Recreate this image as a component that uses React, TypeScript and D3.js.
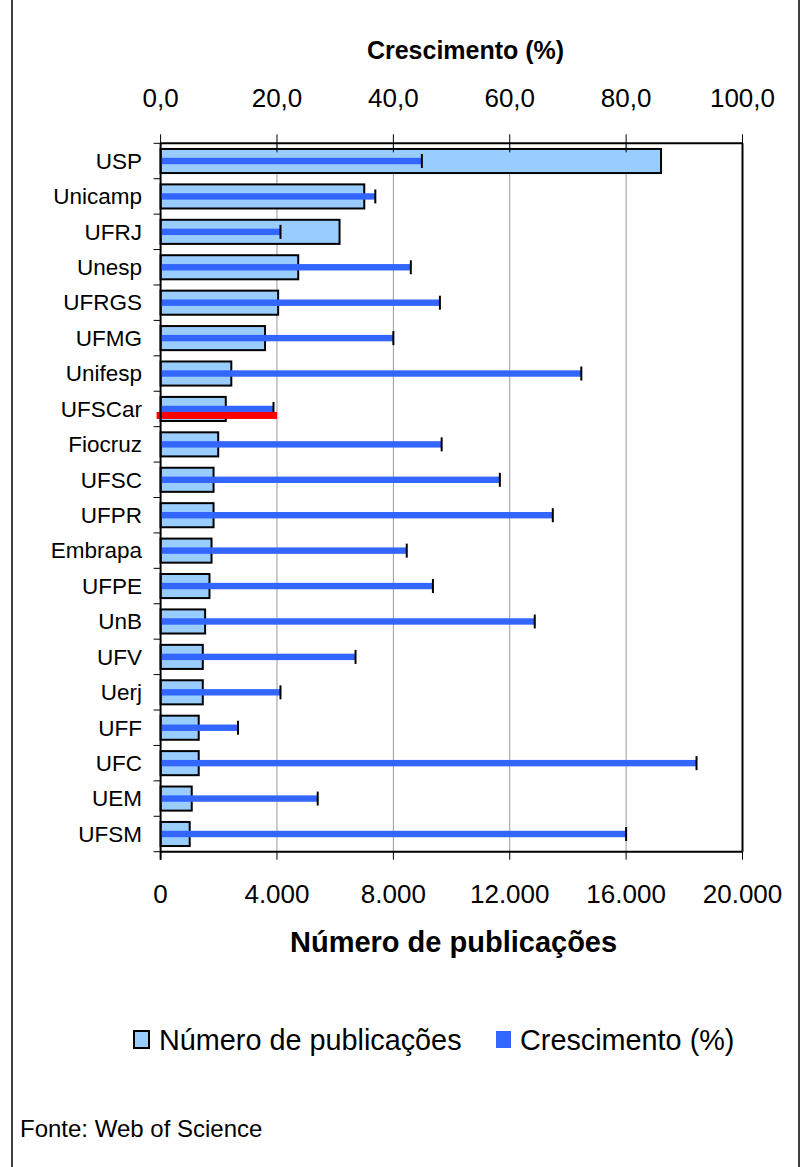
import * as d3 from 'd3'

// dados (Web of Science)
const universidades = [
  'USP', 'Unicamp', 'UFRJ', 'Unesp', 'UFRGS', 'UFMG', 'Unifesp', 'UFSCar', 'Fiocruz', 'UFSC',
  'UFPR', 'Embrapa', 'UFPE', 'UnB', 'UFV', 'Uerj', 'UFF', 'UFC', 'UEM', 'UFSM'
]
const publicacoes = [
  17200, 7000, 6150, 4730, 4040, 3590, 2430, 2240, 1980, 1820,
  1820, 1750, 1680, 1530, 1450, 1450, 1310, 1310, 1070, 1000
]
const crescimento = [
  44.9, 36.9, 20.6, 43.0, 48.0, 40.0, 72.3, 19.4, 48.3, 58.3,
  67.4, 42.3, 46.8, 64.3, 33.5, 20.6, 13.3, 92.1, 27.0, 80.0
]
const pubTicks = [0, 4000, 8000, 12000, 16000, 20000]
const crescTicks = [0, 20, 40, 60, 80, 100]
const destaque = 'UFSCar'
const destaqueAte = 4000

const W = 804
const H = 1167
const margin = { top: 143.3, right: 61.5, bottom: 315.3, left: 160.6 }
const font = '"Liberation Sans", Arial, sans-serif'

const ptBR = d3.formatLocale({ decimal: ',', thousands: '.', grouping: [3], currency: ['R$', ''] })
const fmtPub = ptBR.format(',.0f')
const fmtCresc = ptBR.format('.1f')

export default function App() {
  const innerW = W - margin.left - margin.right
  const innerH = H - margin.top - margin.bottom
  const x0 = margin.left
  const x1 = margin.left + innerW
  const y0 = margin.top
  const y1 = margin.top + innerH

  const xPub = d3.scaleLinear().domain([0, 20000]).range([x0, x1])
  const xCresc = d3.scaleLinear().domain([0, 100]).range([x0, x1])
  const y = d3.scaleBand<string>().domain(universidades).range([y0, y1]).paddingInner(0.32).paddingOuter(0.16)
  const step = y.step()
  const mid = (u: string) => (y(u) as number) + y.bandwidth() / 2

  return (
    <svg width={W} height={H} style={{ position: 'absolute', left: 0, top: 0, background: '#fff' }} fontFamily={font}>
      {/* moldura */}
      <line x1={12} x2={12} y1={0} y2={H} stroke="#000" strokeWidth={1.5} />
      <line x1={799} x2={799} y1={0} y2={H} stroke="#000" strokeWidth={1.5} />

      {/* grade */}
      {pubTicks.slice(1, -1).map(t => (
        <line key={'g' + t} x1={xPub(t)} x2={xPub(t)} y1={y0} y2={y1} stroke="#999" strokeWidth={1} />
      ))}

      {/* barras de publicações */}
      {universidades.map((u, i) => (
        <rect key={'b' + u} x={xPub(0)} y={y(u)} width={xPub(publicacoes[i]) - xPub(0)} height={y.bandwidth()}
          fill="#99CCFF" stroke="#000" strokeWidth={2} />
      ))}

      {/* crescimento */}
      {universidades.map((u, i) => (
        <g key={'c' + u}>
          <rect x={xCresc(0)} y={mid(u) - 3.2} width={xCresc(crescimento[i]) - xCresc(0)} height={6.4} fill="#3366FF" />
          <line x1={xCresc(crescimento[i])} x2={xCresc(crescimento[i])} y1={mid(u) - 7} y2={mid(u) + 7} stroke="#000" strokeWidth={2} />
        </g>
      ))}

      {/* destaque */}
      <rect x={xPub(0) - 4} y={mid(destaque) + 3} width={xPub(destaqueAte) - xPub(0) + 4} height={7} fill="#FF0000" />

      {/* eixos */}
      <line x1={x0} x2={x1} y1={y0} y2={y0} stroke="#000" strokeWidth={2} />
      <line x1={x1} x2={x1} y1={y0} y2={y1} stroke="#000" strokeWidth={2} />
      <line x1={x0} x2={x1} y1={y1} y2={y1} stroke="#000" strokeWidth={2} />
      <line x1={x0} x2={x0} y1={y0} y2={y1 + 8} stroke="#000" strokeWidth={2} />
      {d3.range(universidades.length + 1).map(k => (
        <line key={'yt' + k} x1={x0 - 7} x2={x0} y1={y0 + k * step} y2={y0 + k * step} stroke="#000" strokeWidth={1} />
      ))}
      {universidades.map(u => (
        <text key={'l' + u} x={142} y={mid(u) + 7.8} textAnchor="end" fontSize={22.5}>{u}</text>
      ))}

      {crescTicks.map(t => (
        <g key={'tt' + t}>
          <line x1={xCresc(t)} x2={xCresc(t)} y1={y0 - 9} y2={y0 + 9} stroke="#000" strokeWidth={1} />
          <text x={xCresc(t)} y={107} textAnchor="middle" fontSize={26}>{fmtCresc(t)}</text>
        </g>
      ))}
      {pubTicks.map(t => (
        <g key={'bt' + t}>
          <line x1={xPub(t)} x2={xPub(t)} y1={y1} y2={y1 + 8} stroke="#000" strokeWidth={1} />
          <text x={xPub(t)} y={903} textAnchor="middle" fontSize={26}>{fmtPub(t)}</text>
        </g>
      ))}

      <text x={(x0 + x1) / 2 + 14} y={59} textAnchor="middle" fontSize={25}  fontWeight="bold">Crescimento (%)</text>
      <text x={(x0 + x1) / 2 + 2} y={952} textAnchor="middle" fontSize={29} fontWeight="bold">Número de publicações</text>

      {/* legenda */}
      <rect x={134} y={1031} width={15} height={17} fill="#99CCFF" stroke="#000" strokeWidth={2} />
      <text x={159} y={1050} fontSize={28.8}>Número de publicações</text>
      <rect x={496} y={1031} width={15} height={17} fill="#3366FF" />
      <text x={520} y={1050} fontSize={28.8}>Crescimento (%)</text>

      <text x={20} y={1137} fontSize={24}>Fonte: Web of Science</text>
    </svg>
  )
}
